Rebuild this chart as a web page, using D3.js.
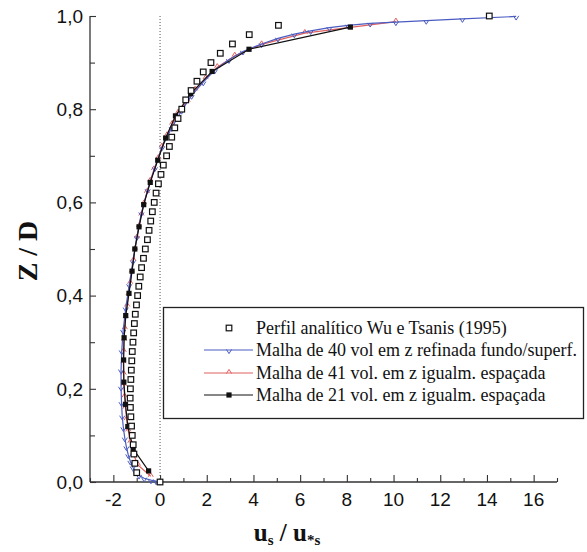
<!DOCTYPE html>
<html>
<head>
<meta charset="utf-8">
<script src="https://cdn.jsdelivr.net/npm/d3@7/dist/d3.min.js"></script>
<style>
  html, body { margin: 0; padding: 0; background: #fff; }
  svg { display: block; }
</style>
</head>
<body>
<svg id="chart" width="587" height="552"></svg>
<script>
// Analytical profile (Wu & Tsanis, 1995): z/D and u_s/u*_s
const analyticZ = [0.00,0.02,0.04,0.06,0.08,0.10,0.12,0.14,0.16,0.18,0.20,0.22,0.24,0.26,0.28,0.30,0.32,0.34,0.36,0.38,0.40,0.42,0.44,0.46,0.48,0.50,0.52,0.54,0.56,0.58,0.60,0.62,0.64,0.66,0.68,0.70,0.72,0.74,0.76,0.78,0.80,0.82,0.84,0.86,0.88,0.90,0.92,0.94,0.96,0.98,1.00];
const analyticU = [0.00,-1.00,-1.08,-1.12,-1.15,-1.19,-1.22,-1.25,-1.27,-1.28,-1.27,-1.25,-1.23,-1.21,-1.19,-1.16,-1.13,-1.10,-1.06,-1.01,-0.96,-0.91,-0.85,-0.79,-0.71,-0.63,-0.54,-0.47,-0.40,-0.33,-0.25,-0.17,-0.07,0.04,0.14,0.28,0.40,0.50,0.63,0.77,0.93,1.10,1.33,1.58,1.85,2.18,2.58,3.10,3.82,5.07,14.1];

// 40-volume grid refined near bottom and surface
const blueZ = [0.001,0.002,0.004,0.008,0.014,0.022,0.032,0.044,0.058,0.075,0.094,0.116,0.141,0.170,0.203,0.240,0.281,0.325,0.373,0.423,0.474,0.526,0.577,0.627,0.674,0.719,0.760,0.797,0.829,0.858,0.884,0.906,0.924,0.940,0.952,0.961,0.968,0.975,0.980,0.984,0.987,0.990,0.994,0.999];
const blueU = [0.00,-0.17,-0.39,-0.68,-0.90,-1.05,-1.17,-1.27,-1.36,-1.44,-1.51,-1.57,-1.62,-1.65,-1.67,-1.67,-1.64,-1.58,-1.47,-1.32,-1.16,-0.99,-0.80,-0.53,-0.22,0.09,0.50,0.92,1.35,1.85,2.35,2.95,3.55,4.35,5.05,5.75,6.45,7.25,8.05,9.00,10.1,11.4,12.95,15.25];

// 41 equally spaced volumes
const redZ = [0.0122,0.0366,0.0610,0.0854,0.1098,0.1341,0.1585,0.1829,0.2073,0.2317,0.2561,0.2805,0.3049,0.3293,0.3537,0.3780,0.4024,0.4268,0.4512,0.4756,0.5000,0.5244,0.5488,0.5732,0.5976,0.6220,0.6463,0.6707,0.6951,0.7195,0.7439,0.7683,0.7927,0.8171,0.8415,0.8659,0.8902,0.9146,0.9390,0.9634,0.9878];
const redU = [-0.40,-0.95,-1.15,-1.27,-1.36,-1.43,-1.48,-1.52,-1.55,-1.56,-1.57,-1.56,-1.54,-1.51,-1.47,-1.41,-1.35,-1.28,-1.21,-1.14,-1.07,-0.99,-0.90,-0.80,-0.69,-0.56,-0.42,-0.26,-0.07,0.08,0.30,0.52,0.78,1.18,1.50,1.95,2.45,3.20,4.35,6.20,10.1];

// 21 equally spaced volumes
const blackZ = [0.0238,0.0714,0.1190,0.1667,0.2143,0.2619,0.3095,0.3571,0.4048,0.4524,0.5000,0.5476,0.5952,0.6429,0.6905,0.7381,0.7857,0.8333,0.8810,0.9286,0.9762];
const blackU = [-0.49,-1.15,-1.38,-1.48,-1.55,-1.56,-1.54,-1.47,-1.33,-1.20,-1.08,-0.90,-0.70,-0.42,-0.10,0.24,0.66,1.31,2.23,3.81,8.15];

const xTicks = [-2,0,2,4,6,8,10,12,14,16];
const yTicks = [0.0,0.2,0.4,0.6,0.8,1.0];

const legendLabels = [
  "Perfil analítico Wu e Tsanis (1995)",
  "Malha de 40 vol em z refinada fundo/superf.",
  "Malha de 41 vol. em z igualm. espaçada",
  "Malha de 21 vol. em z igualm. espaçada"
];

const BLUE = "#4b5cc0", RED = "#e0605f", BLACK = "#111", AXIS = "#333";
const SERIF = "Liberation Serif, Times New Roman, serif";
const SANS = "Liberation Sans, Arial, sans-serif";

const svg = d3.select("#chart");
const x = d3.scaleLinear().domain([-3, 17]).range([90, 557]);
const y = d3.scaleLinear().domain([0, 1]).range([482, 16]);

const fmt = d => d3.format(".1f")(d).replace(".", ",");

// Axes: inward ticks, major + minor
const yAxis = svg.append("g").attr("transform", "translate(90,0)")
  .call(d3.axisRight(y).tickValues(d3.range(0, 1.001, 0.1)).tickSize(6).tickFormat(""));
yAxis.select(".domain").attr("d", `M0,${y(1)}V${y(0)}`);
yAxis.selectAll(".tick line").attr("x2", (d, i) => i % 2 === 0 ? 6 : 5);

const xAxis = svg.append("g").attr("transform", "translate(0,482)")
  .call(d3.axisTop(x).tickValues(d3.range(-3, 17.001, 1)).tickSize(6).tickFormat(""));
xAxis.select(".domain").attr("d", `M${x(-3)},0H${x(17)}`);
xAxis.selectAll(".tick line").attr("y2", d => (Math.round(d) % 2 === 0) ? -7 : -4);
[yAxis, xAxis].forEach(a => {
  a.select(".domain").attr("stroke", AXIS).attr("stroke-width", 1.3);
  a.selectAll(".tick line").attr("stroke", AXIS).attr("stroke-width", 1.1);
});

// Tick labels
svg.append("g").selectAll("text").data(yTicks).join("text")
  .attr("x", 83).attr("y", d => y(d)).attr("dy", "0.36em")
  .attr("text-anchor", "end")
  .attr("font-family", SANS).attr("font-size", 19)
  .attr("fill", "#111").text(fmt);
svg.append("g").selectAll("text").data(xTicks).join("text")
  .attr("x", d => x(d)).attr("y", 506)
  .attr("text-anchor", "middle")
  .attr("font-family", SANS).attr("font-size", 19)
  .attr("fill", "#111").text(d => d);

// Axis titles
svg.append("text")
  .attr("transform", `translate(37,${(y(0) + y(1)) / 2 + 2}) rotate(-90)`)
  .attr("text-anchor", "middle")
  .attr("font-family", SERIF).attr("font-size", 28).attr("font-weight", "bold")
  .attr("fill", "#111").text("Z / D");
const xt = svg.append("text")
  .attr("x", 287).attr("y", 541).attr("text-anchor", "middle")
  .attr("font-family", SERIF).attr("font-size", 25).attr("font-weight", "bold")
  .attr("fill", "#111");
xt.append("tspan").text("u");
xt.append("tspan").attr("font-size", 15).attr("dy", 4).text("s");
xt.append("tspan").attr("dy", -4).text(" / u");
xt.append("tspan").attr("font-size", 15).attr("dy", 4).text("*s");

// Zero reference line
svg.append("line")
  .attr("x1", x(0)).attr("x2", x(0)).attr("y1", y(1)).attr("y2", y(0))
  .attr("stroke", "#555").attr("stroke-width", 1).attr("stroke-dasharray", "1,2");

const line = d3.line().x(d => x(d[0])).y(d => y(d[1]));
const zipUZ = (u, z) => u.map((v, i) => [v, z[i]]);

const blueData = zipUZ(blueU, blueZ);
const redData = zipUZ(redU, redZ);
const blackData = zipUZ(blackU, blackZ);
const analyticData = zipUZ(analyticU, analyticZ);

const vMark = "M-2.6,-0.6L0,3.6L2.6,-0.6";
const caretMark = "M-2.6,0.6L0,-3.6L2.6,0.6";

// Red series
svg.append("path").datum(redData).attr("d", line)
  .attr("fill", "none").attr("stroke", RED).attr("stroke-width", 1.2);
svg.append("g").selectAll("path").data(redData).join("path")
  .attr("transform", d => `translate(${x(d[0])},${y(d[1])})`)
  .attr("d", caretMark).attr("fill", "none").attr("stroke", RED).attr("stroke-width", 1);

// Blue series
svg.append("path").datum(blueData).attr("d", line)
  .attr("fill", "none").attr("stroke", BLUE).attr("stroke-width", 1.2);
svg.append("g").selectAll("path").data(blueData).join("path")
  .attr("transform", d => `translate(${x(d[0])},${y(d[1])})`)
  .attr("d", vMark).attr("fill", "none").attr("stroke", BLUE).attr("stroke-width", 1);

// Black series
svg.append("path").datum(blackData).attr("d", line)
  .attr("fill", "none").attr("stroke", BLACK).attr("stroke-width", 1.2);
svg.append("g").selectAll("rect").data(blackData).join("rect")
  .attr("x", d => x(d[0]) - 2.6).attr("y", d => y(d[1]) - 2.6)
  .attr("width", 5.2).attr("height", 5.2).attr("fill", BLACK);

// Analytical profile: open squares
svg.append("g").selectAll("rect").data(analyticData).join("rect")
  .attr("x", d => x(d[0]) - 2.8).attr("y", d => y(d[1]) - 2.8)
  .attr("width", 5.6).attr("height", 5.6)
  .attr("fill", "#fff").attr("stroke", "#111").attr("stroke-width", 1.2);

// Legend
const lg = svg.append("g");
lg.append("rect").attr("x", 163.5).attr("y", 307.5).attr("width", 420).attr("height", 111)
  .attr("fill", "#fff").attr("stroke", "#222").attr("stroke-width", 1.3);
const rowY = [328, 350, 373, 395];
const lineX0 = 204, lineX1 = 253, markX = 229;
legendLabels.forEach((t, i) => {
  const ry = rowY[i];
  if (i === 0) {
    lg.append("rect").attr("x", markX - 2.8).attr("y", ry - 2.8).attr("width", 5.6).attr("height", 5.6)
      .attr("fill", "#fff").attr("stroke", "#111").attr("stroke-width", 1.2);
  } else {
    const c = [BLUE, RED, BLACK][i - 1];
    lg.append("line").attr("x1", lineX0).attr("x2", lineX1).attr("y1", ry).attr("y2", ry)
      .attr("stroke", c).attr("stroke-width", 1.2);
    if (i === 1) lg.append("path").attr("transform", `translate(${markX},${ry})`).attr("d", vMark)
      .attr("fill", "none").attr("stroke", c).attr("stroke-width", 1);
    if (i === 2) lg.append("path").attr("transform", `translate(${markX},${ry})`).attr("d", caretMark)
      .attr("fill", "none").attr("stroke", c).attr("stroke-width", 1);
    if (i === 3) lg.append("rect").attr("x", markX - 2.6).attr("y", ry - 2.6).attr("width", 5.2).attr("height", 5.2)
      .attr("fill", c);
  }
  lg.append("text").attr("x", 256).attr("y", ry).attr("dy", "0.35em")
    .attr("font-family", SERIF).attr("font-size", 18)
    .attr("fill", "#111").text(t);
});
</script>
</body>
</html>
